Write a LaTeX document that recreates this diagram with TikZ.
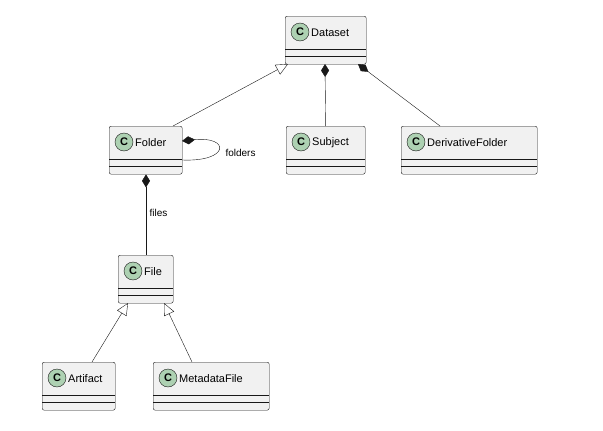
\documentclass[tikz,border=0pt]{standalone}
\usepackage{fontspec}
\setmainfont{Liberation Sans}
\usetikzlibrary{arrows.meta}
\definecolor{boxfill}{HTML}{F1F1F1}
\definecolor{boxline}{HTML}{181818}
\definecolor{cfill}{HTML}{ADD1B2}
\tikzset{
	cls/.style={draw=boxline,fill=boxfill,rounded corners=2pt,minimum height=48pt,inner sep=0pt,anchor=north west},
	inherit/.style={draw=boxline,-{Triangle[open,fill=white,length=12pt,width=11pt]}},
	compose/.style={draw=boxline,{Diamond[length=13pt,width=8pt]}-},
	lbl/.style={font=\fontsize{10}{12}\selectfont}
}
\begin{document}
\begin{tikzpicture}[x=1pt,y=-1pt]
	\useasboundingbox (0,0) rectangle (603,431);
	% classes
	\foreach \n/\x/\y/\w/\t in {ds/285/16/81/Dataset, fo/109/126/73/Folder, su/286/126/79/Subject,
		df/401/126/136/DerivativeFolder, fi/118/255/55/File, ar/42/362/73/Artifact, md/153/362/116/MetadataFile}{
		\node[cls,minimum width=\w pt] (\n) at (\x,\y) {};
		\draw[boxline] (\x,\y+33) -- ++(\w,0);
		\draw[boxline] (\x,\y+40) -- ++(\w,0);
		\draw[boxline,fill=cfill] (\x+15,\y+16) circle (9);
		\node[font=\bfseries\fontsize{11}{13}\selectfont] at (\x+15,\y+16) {C};
		\node[anchor=west,inner sep=0pt,font=\fontsize{11}{13}\selectfont] at (\x+26,\y+16.5) {\t};
	}
	% relations
	\coordinate (dsl) at (288,64);
	\coordinate (dsm) at (325,64);
	\coordinate (dsr) at (358,64);
	\coordinate (fot) at (173,126);
	\coordinate (fir) at (164,303);
	\coordinate (fil) at (128,303);
	\draw[inherit] (fot) -- (dsl);
	\draw[compose] (dsm) -- (su.north);
	\draw[compose] (dsr) -- (440,126);
	\draw[compose] (182,141) .. controls (230,136) and (230,162) .. (182,160);
	\node[lbl,anchor=west] (lf) at (222,153) {folders};
	\draw[compose] (fo.south -| 146,0) -- (fi.north -| 146,0);
	\node[lbl,anchor=west] (lfi) at (146,213) {files};
	\draw[inherit] (92,362) -- (fil);
	\draw[inherit] (192,362) -- (fir);
\end{tikzpicture}
\end{document}
